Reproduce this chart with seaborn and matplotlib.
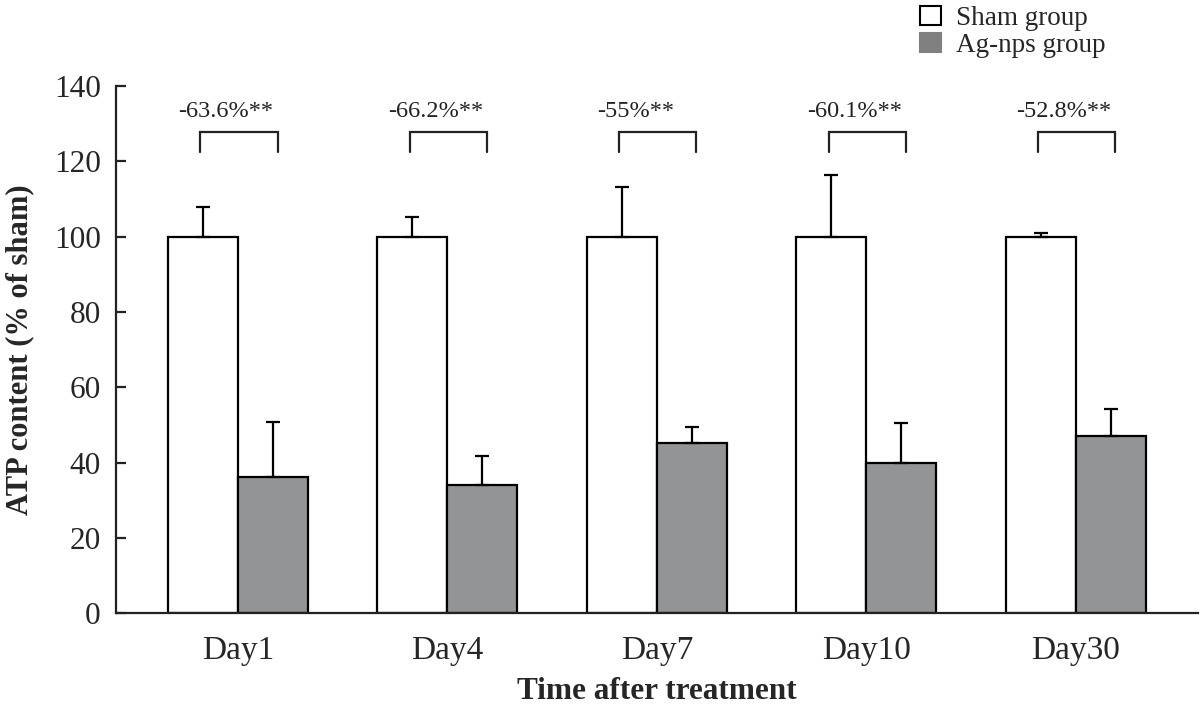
import matplotlib
matplotlib.use("Agg")
import matplotlib.pyplot as plt
from matplotlib.patches import Patch
import seaborn as sns
import pandas as pd
import numpy as np

# ---- data ----
days = ["Day1", "Day4", "Day7", "Day10", "Day30"]
groups = ["Sham group", "Ag-nps group"]
sham_mean = [100, 100, 100, 100, 100]
sham_err = [8.0, 5.3, 13.2, 16.4, 1.1]
agnps_mean = [36.1, 34.0, 45.1, 39.8, 47.2]
agnps_err = [14.8, 7.8, 4.3, 10.6, 7.0]
change_labels = ["-63.6%**", "-66.2%**", "-55%**", "-60.1%**", "-52.8%**"]

df = pd.DataFrame({
    "day": days * 2,
    "group": [groups[0]] * len(days) + [groups[1]] * len(days),
    "value": sham_mean + agnps_mean,
})

sns.set_style("white")
plt.rcParams["font.family"] = ["Liberation Serif", "DejaVu Serif"]

fig = plt.figure(figsize=(12, 7.12), dpi=100)
ax = fig.add_axes([0.0967, 0.1386, 0.9013, 0.7406])

white = "#ffffff"
gray = "#939496"
sns.barplot(data=df, x="day", y="value", hue="group", order=days,
            hue_order=groups, palette=[white, gray], width=0.668,
            edgecolor="black", linewidth=1.6, errorbar=None, ax=ax,
            legend=False)

errs = [sham_err, agnps_err]
centers = []
for cont, err in zip(ax.containers, errs):
    xs = np.array([b.get_x() + b.get_width() / 2 for b in cont])
    hs = np.array([b.get_height() for b in cont])
    centers.append(xs)
    ax.errorbar(xs, hs, yerr=[np.zeros_like(hs), err], fmt="none",
                ecolor="black", elinewidth=1.6, capsize=4.7, capthick=1.6,
                zorder=1)

# significance brackets
br_lo, br_hi = 122.5, 127.8
for i, lab in enumerate(change_labels):
    xl = centers[0][i] - 0.012
    xr = centers[1][i] + 0.022
    ax.plot([xl, xl, xr, xr], [br_lo, br_hi, br_hi, br_lo], color="#222222",
            lw=1.6, solid_joinstyle="miter", clip_on=False)
    ax.text(xl - 0.105, 131.9, lab, ha="left", va="baseline",
            fontsize=17.5, color="#222222")

ax.set_xlim(-0.582, 4.582)
ax.set_ylim(0, 140)
ax.set_yticks(range(0, 141, 20))
for s in ["top", "right"]:
    ax.spines[s].set_visible(False)
for s in ["left", "bottom"]:
    ax.spines[s].set_linewidth(1.6)
    ax.spines[s].set_color("#222222")
ax.tick_params(axis="y", direction="in", length=7, width=1.6,
               labelsize=22.5, pad=11, color="#222222", left=True)
ax.tick_params(axis="x", length=0, labelsize=24, pad=16)

ax.set_xlabel("Time after treatment", fontsize=22.5, fontweight="bold",
              labelpad=8)
ax.set_ylabel("ATP content (% of sham)", fontsize=22, fontweight="bold",
              labelpad=14)

handles = [Patch(facecolor=white, edgecolor="black", linewidth=1.5),
           Patch(facecolor="#808080", edgecolor="#808080", linewidth=1.5)]
fig.legend(handles, groups, loc="upper left",
           bbox_to_anchor=(0.764, 0.995), frameon=False, fontsize=19.5,
           handlelength=0.8, handleheight=0.7, handletextpad=0.55,
           labelspacing=0.05, borderpad=0.1, borderaxespad=0)

fig.savefig("out.png", dpi=100)
